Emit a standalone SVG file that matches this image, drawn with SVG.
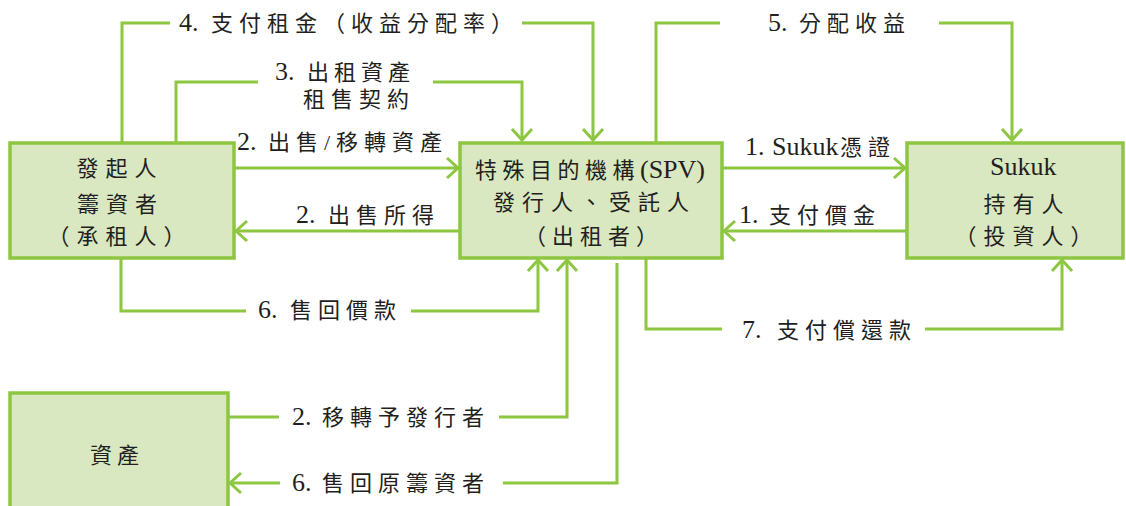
<svg xmlns="http://www.w3.org/2000/svg" width="1126" height="506" viewBox="0 0 1126 506">
<style>
.box{fill:#d9e8c1;stroke:#8dc641;stroke-width:3.5}
.ln{fill:none;stroke:#8dc641;stroke-width:3}
.t{font-family:"Liberation Serif","Noto Sans CJK TC",serif;font-size:22px;fill:#231f20}
.n{font-size:26px;letter-spacing:0}
.c{letter-spacing:6px}
.c5{letter-spacing:5px}
.c7{letter-spacing:7px}
</style>
<defs>
<marker id="arr" markerUnits="userSpaceOnUse" markerWidth="30" markerHeight="30" viewBox="-15 -15 30 30" refX="0" refY="0" orient="auto">
<path d="M-11,-10 L0,0 L-11,10" fill="none" stroke="#8dc641" stroke-width="3"/>
</marker>
</defs>
<rect width="1126" height="506" fill="#ffffff"/>
<g id="connectors">
<path class="ln" d="M122,142 V23 H170 M522,23 H593 V140" marker-end="url(#arr)"/>
<path class="ln" d="M176,142 V82 H258 M433,82 H522 V140" marker-end="url(#arr)"/>
<path class="ln" d="M234,168 H458" marker-end="url(#arr)"/>
<path class="ln" d="M460,231 H236" marker-end="url(#arr)"/>
<path class="ln" d="M121,258 V311 H246 M411,311 H538 V260" marker-end="url(#arr)"/>
<path class="ln" d="M656,142 V23 H720 M939,23 H1012 V140" marker-end="url(#arr)"/>
<path class="ln" d="M722,168 H905" marker-end="url(#arr)"/>
<path class="ln" d="M907,231 H724" marker-end="url(#arr)"/>
<path class="ln" d="M646,258 V329 H722 M925,329 H1062 V260" marker-end="url(#arr)"/>
<path class="ln" d="M228,417 H279 M499,417 H567 V260" marker-end="url(#arr)"/>
<path class="ln" d="M617,263 V483 H503 M280,483 H230" marker-end="url(#arr)"/>
<text class="t" y="31"><tspan class="n" x="179">4.</tspan><tspan class="c" x="211">支付租金（收益分配率）</tspan></text>
<text class="t" y="80"><tspan class="n" x="275">3.</tspan><tspan class="c5" x="307">出租資產</tspan></text>
<text class="t c" x="303" y="107">租售契約</text>
<text class="t" y="150"><tspan class="n" x="237">2.</tspan><tspan class="c" x="268">出售/移轉資產</tspan></text>
<text class="t" y="223"><tspan class="n" x="296">2.</tspan><tspan class="c" x="328">出售所得</tspan></text>
<text class="t" y="318"><tspan class="n" x="258">6.</tspan><tspan class="c" x="290">售回價款</tspan></text>
<text class="t" y="31"><tspan class="n" x="768">5.</tspan><tspan class="c" x="799">分配收益</tspan></text>
<text class="t" y="155"><tspan class="n" x="745">1.</tspan><tspan class="n" x="772">Sukuk</tspan><tspan class="c" x="840">憑證</tspan></text>
<text class="t" y="223"><tspan class="n" x="739">1.</tspan><tspan class="c" x="769">支付價金</tspan></text>
<text class="t" y="338"><tspan class="n" x="742">7.</tspan><tspan class="c" x="777">支付償還款</tspan></text>
<text class="t" y="425"><tspan class="n" x="292">2.</tspan><tspan class="c" x="322">移轉予發行者</tspan></text>
<text class="t" y="491"><tspan class="n" x="292">6.</tspan><tspan class="c" x="322">售回原籌資者</tspan></text>
</g>
<g id="originator">
<rect class="box" x="10" y="143" width="224" height="115"/>
<text class="t c7" x="76.5" y="176">發起人</text>
<text class="t c7" x="77" y="212">籌資者</text>
<text class="t c7" x="47.5" y="244">（承租人）</text>
</g>
<g id="spv">
<rect class="box" x="460" y="143" width="262" height="115"/>
<text class="t" y="178"><tspan style="letter-spacing:5.5px" x="475">特殊目的機構</tspan><tspan class="n" x="640">(SPV)</tspan></text>
<text class="t c7" x="493" y="210">發行人、受託人</text>
<text class="t c" x="524" y="244">（出租者）</text>
</g>
<g id="sukuk-holder">
<rect class="box" x="907" y="143" width="216" height="115"/>
<text class="t n" x="990" y="175">Sukuk</text>
<text class="t c7" x="983.5" y="212">持有人</text>
<text class="t c7" x="954.5" y="244">（投資人）</text>
</g>
<g id="asset">
<rect class="box" x="10" y="393" width="218" height="120"/>
<text class="t c5" x="90" y="463">資產</text>
</g>
</svg>
